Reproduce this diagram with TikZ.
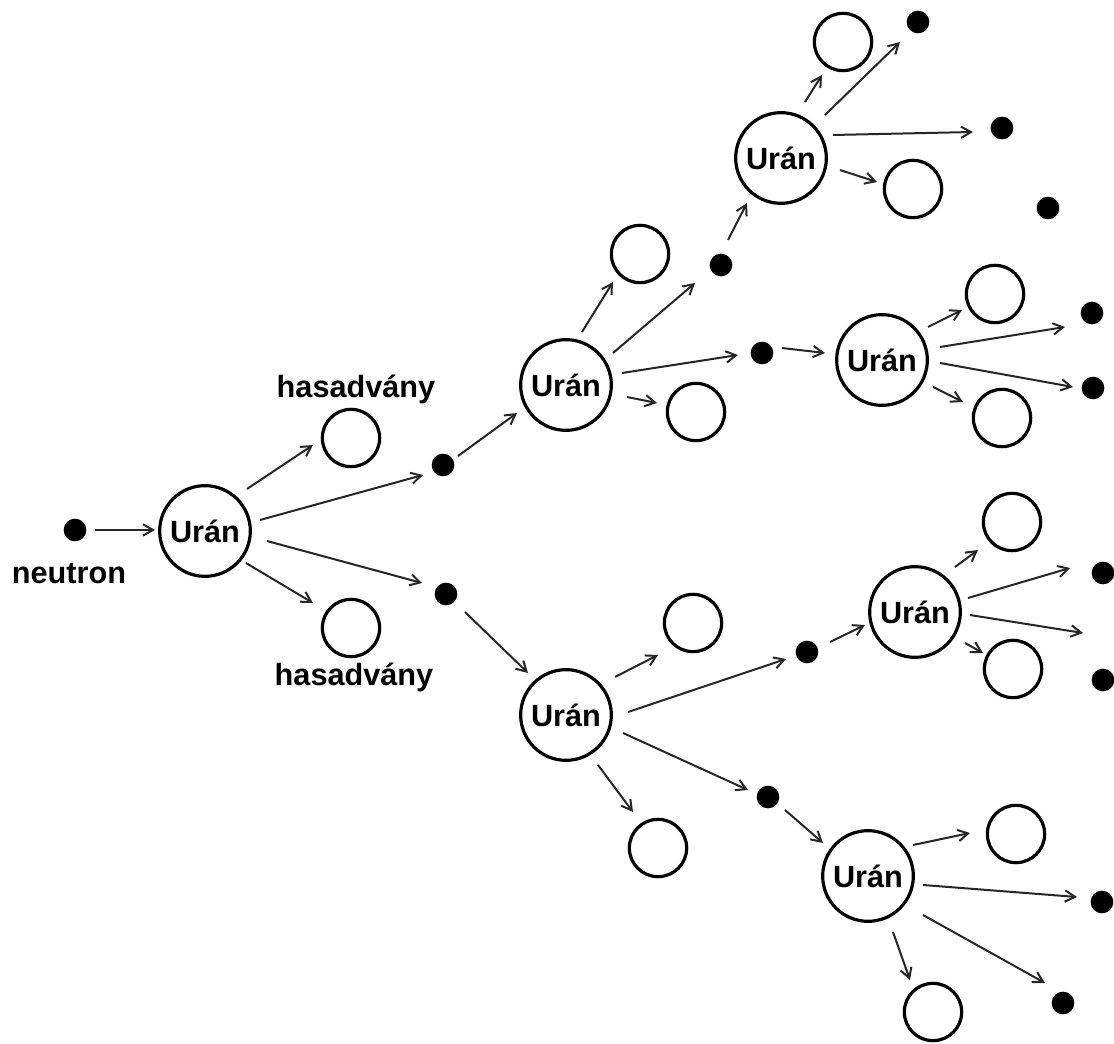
\documentclass[tikz,border=0pt]{standalone}
\usepackage{fontspec}
\setmainfont{Liberation Sans}
\usetikzlibrary{arrows.meta,calc}
\begin{document}
\begin{tikzpicture}[x=0.75pt,y=-0.75pt,
  uran/.style={circle,draw,line width=2.4pt,minimum size=68pt,inner sep=0pt,font=\fontsize{23}{26}\selectfont\bfseries},
  frag/.style={circle,draw,line width=2.4pt,minimum size=43pt,inner sep=0pt},
  neut/.style={circle,fill=black,minimum size=17pt,inner sep=0pt},
  lbl/.style={font=\fontsize{23}{26}\selectfont\bfseries,inner sep=0pt},
  arr/.style={line width=1.5pt,draw=black!85,-{Straight Barb[length=7.5pt,width=8.5pt]}}]
\useasboundingbox (0,0) rectangle (1114,1044);
% generation 0
\node[neut] (N) at (75,530) {};
\node[lbl] (Nl) at (69,574) {neutron};
\node[uran] (U0) at (205,531) {Urán};
\node[frag] (FA1) at (351,438) {};
\node[frag] (FA2) at (351,628) {};
\node[lbl] (L1) at (356,389) {hasadvány};
\node[lbl] (L2) at (354,677) {hasadvány};
\node[neut] (A) at (443,465) {};
\node[neut] (B) at (446,594) {};
% upper branch
\node[uran] (U1) at (566,385) {Urán};
\node[frag] (F11) at (640,254) {};
\node[frag] (F12) at (696,412) {};
\node[neut] (C) at (721,265) {};
\node[neut] (D) at (762,353) {};
\node[uran] (U2) at (781,158) {Urán};
\node[frag] (F21) at (843,42) {};
\node[frag] (F22) at (913,189) {};
\node[neut] (E1) at (918,22) {};
\node[neut] (E2) at (1002,128) {};
\node[neut] (E3) at (1048,208) {};
\node[uran] (U3) at (882,360) {Urán};
\node[frag] (F31) at (995,294) {};
\node[frag] (F32) at (1002,418) {};
\node[neut] (G1) at (1092,313) {};
\node[neut] (G2) at (1093,388) {};
% lower branch
\node[uran] (U4) at (566,715) {Urán};
\node[frag] (F41) at (693,623) {};
\node[frag] (F42) at (658,848) {};
\node[neut] (H1) at (807,652) {};
\node[neut] (H2) at (768,797) {};
\node[uran] (U5) at (915,612) {Urán};
\node[frag] (F51) at (1012,522) {};
\node[frag] (F52) at (1013,669) {};
\node[neut] (I1) at (1103,573) {};
\node[neut] (I2) at (1103,680) {};
\coordinate (X1) at (1083,633);
\node[uran] (U6) at (868,876) {Urán};
\node[frag] (F61) at (1016,834) {};
\node[frag] (F62) at (933,1012) {};
\node[neut] (J1) at (1102,902) {};
\node[neut] (J2) at (1063,1003) {};
% connectors
\draw[arr] ($(N)+(20,0)$) -- ($(U0)+(-50,-1)$);
\draw[arr] ($(U0)+(42,-42)$) -- ($(FA1)+(-38,7)$);
\draw[arr] ($(U0)+(55,-11)$) -- ($(A)+(-20,10)$);
\draw[arr] ($(U0)+(62,10)$) -- ($(B)+(-24,-11)$);
\draw[arr] ($(U0)+(41,32)$) -- ($(FA2)+(-38,-25)$);
\draw[arr] ($(A)+(15,-9)$) -- ($(U1)+(-49,28)$);
\draw[arr] ($(U1)+(16,-53)$) -- ($(F11)+(-27,28)$);
\draw[arr] ($(U1)+(47,-32)$) -- ($(C)+(-26,18)$);
\draw[arr] ($(U1)+(56,-12)$) -- ($(D)+(-24,2)$);
\draw[arr] ($(U1)+(61,12)$) -- ($(F12)+(-39,-9)$);
\draw[arr] ($(C)+(7,-25)$) -- ($(U2)+(-34,45)$);
\draw[arr] ($(U2)+(24,-56)$) -- ($(F21)+(-21,33)$);
\draw[arr] ($(U2)+(44,-43)$) -- ($(E1)+(-18,20)$);
\draw[arr] ($(U2)+(52,-23)$) -- ($(E2)+(-29,4)$);
\draw[arr] ($(U2)+(59,12)$) -- ($(F22)+(-36,-7)$);
\draw[arr] ($(D)+(20,-5)$) -- ($(U3)+(-57,-7)$);
\draw[arr] ($(U3)+(46,-33)$) -- ($(F31)+(-33,16)$);
\draw[arr] ($(U3)+(58,-13)$) -- ($(G1)+(-27,14)$);
\draw[arr] ($(U3)+(58,3)$) -- ($(G2)+(-20,-1)$);
\draw[arr] ($(U3)+(51,27)$) -- ($(F32)+(-39,-16)$);
\draw[arr] ($(B)+(19,18)$) -- ($(U4)+(-38,-42)$);
\draw[arr] ($(U4)+(49,-38)$) -- ($(F41)+(-35,32)$);
\draw[arr] ($(U4)+(62,-3)$) -- ($(H1)+(-21,7)$);
\draw[arr] ($(U4)+(57,18)$) -- ($(H2)+(-20,-7)$);
\draw[arr] ($(U4)+(32,50)$) -- ($(F42)+(-25,-36)$);
\draw[arr] ($(H1)+(23,-10)$) -- ($(U5)+(-50,13)$);
\draw[arr] ($(U5)+(40,-45)$) -- ($(F51)+(-34,28)$);
\draw[arr] ($(U5)+(53,-14)$) -- ($(I1)+(-33,-5)$);
\draw[arr] ($(U5)+(55,3)$) -- (X1);
\draw[arr] ($(U5)+(50,31)$) -- ($(F52)+(-30,-16)$);
\draw[arr] ($(H2)+(17,13)$) -- ($(U6)+(-45,-33)$);
\draw[arr] ($(U6)+(45,-31)$) -- ($(F61)+(-46,-1)$);
\draw[arr] ($(U6)+(55,9)$) -- ($(J1)+(-25,-5)$);
\draw[arr] ($(U6)+(55,39)$) -- ($(J2)+(-18,-20)$);
\draw[arr] ($(U6)+(25,56)$) -- ($(F62)+(-23,-32)$);
\end{tikzpicture}
\end{document}
